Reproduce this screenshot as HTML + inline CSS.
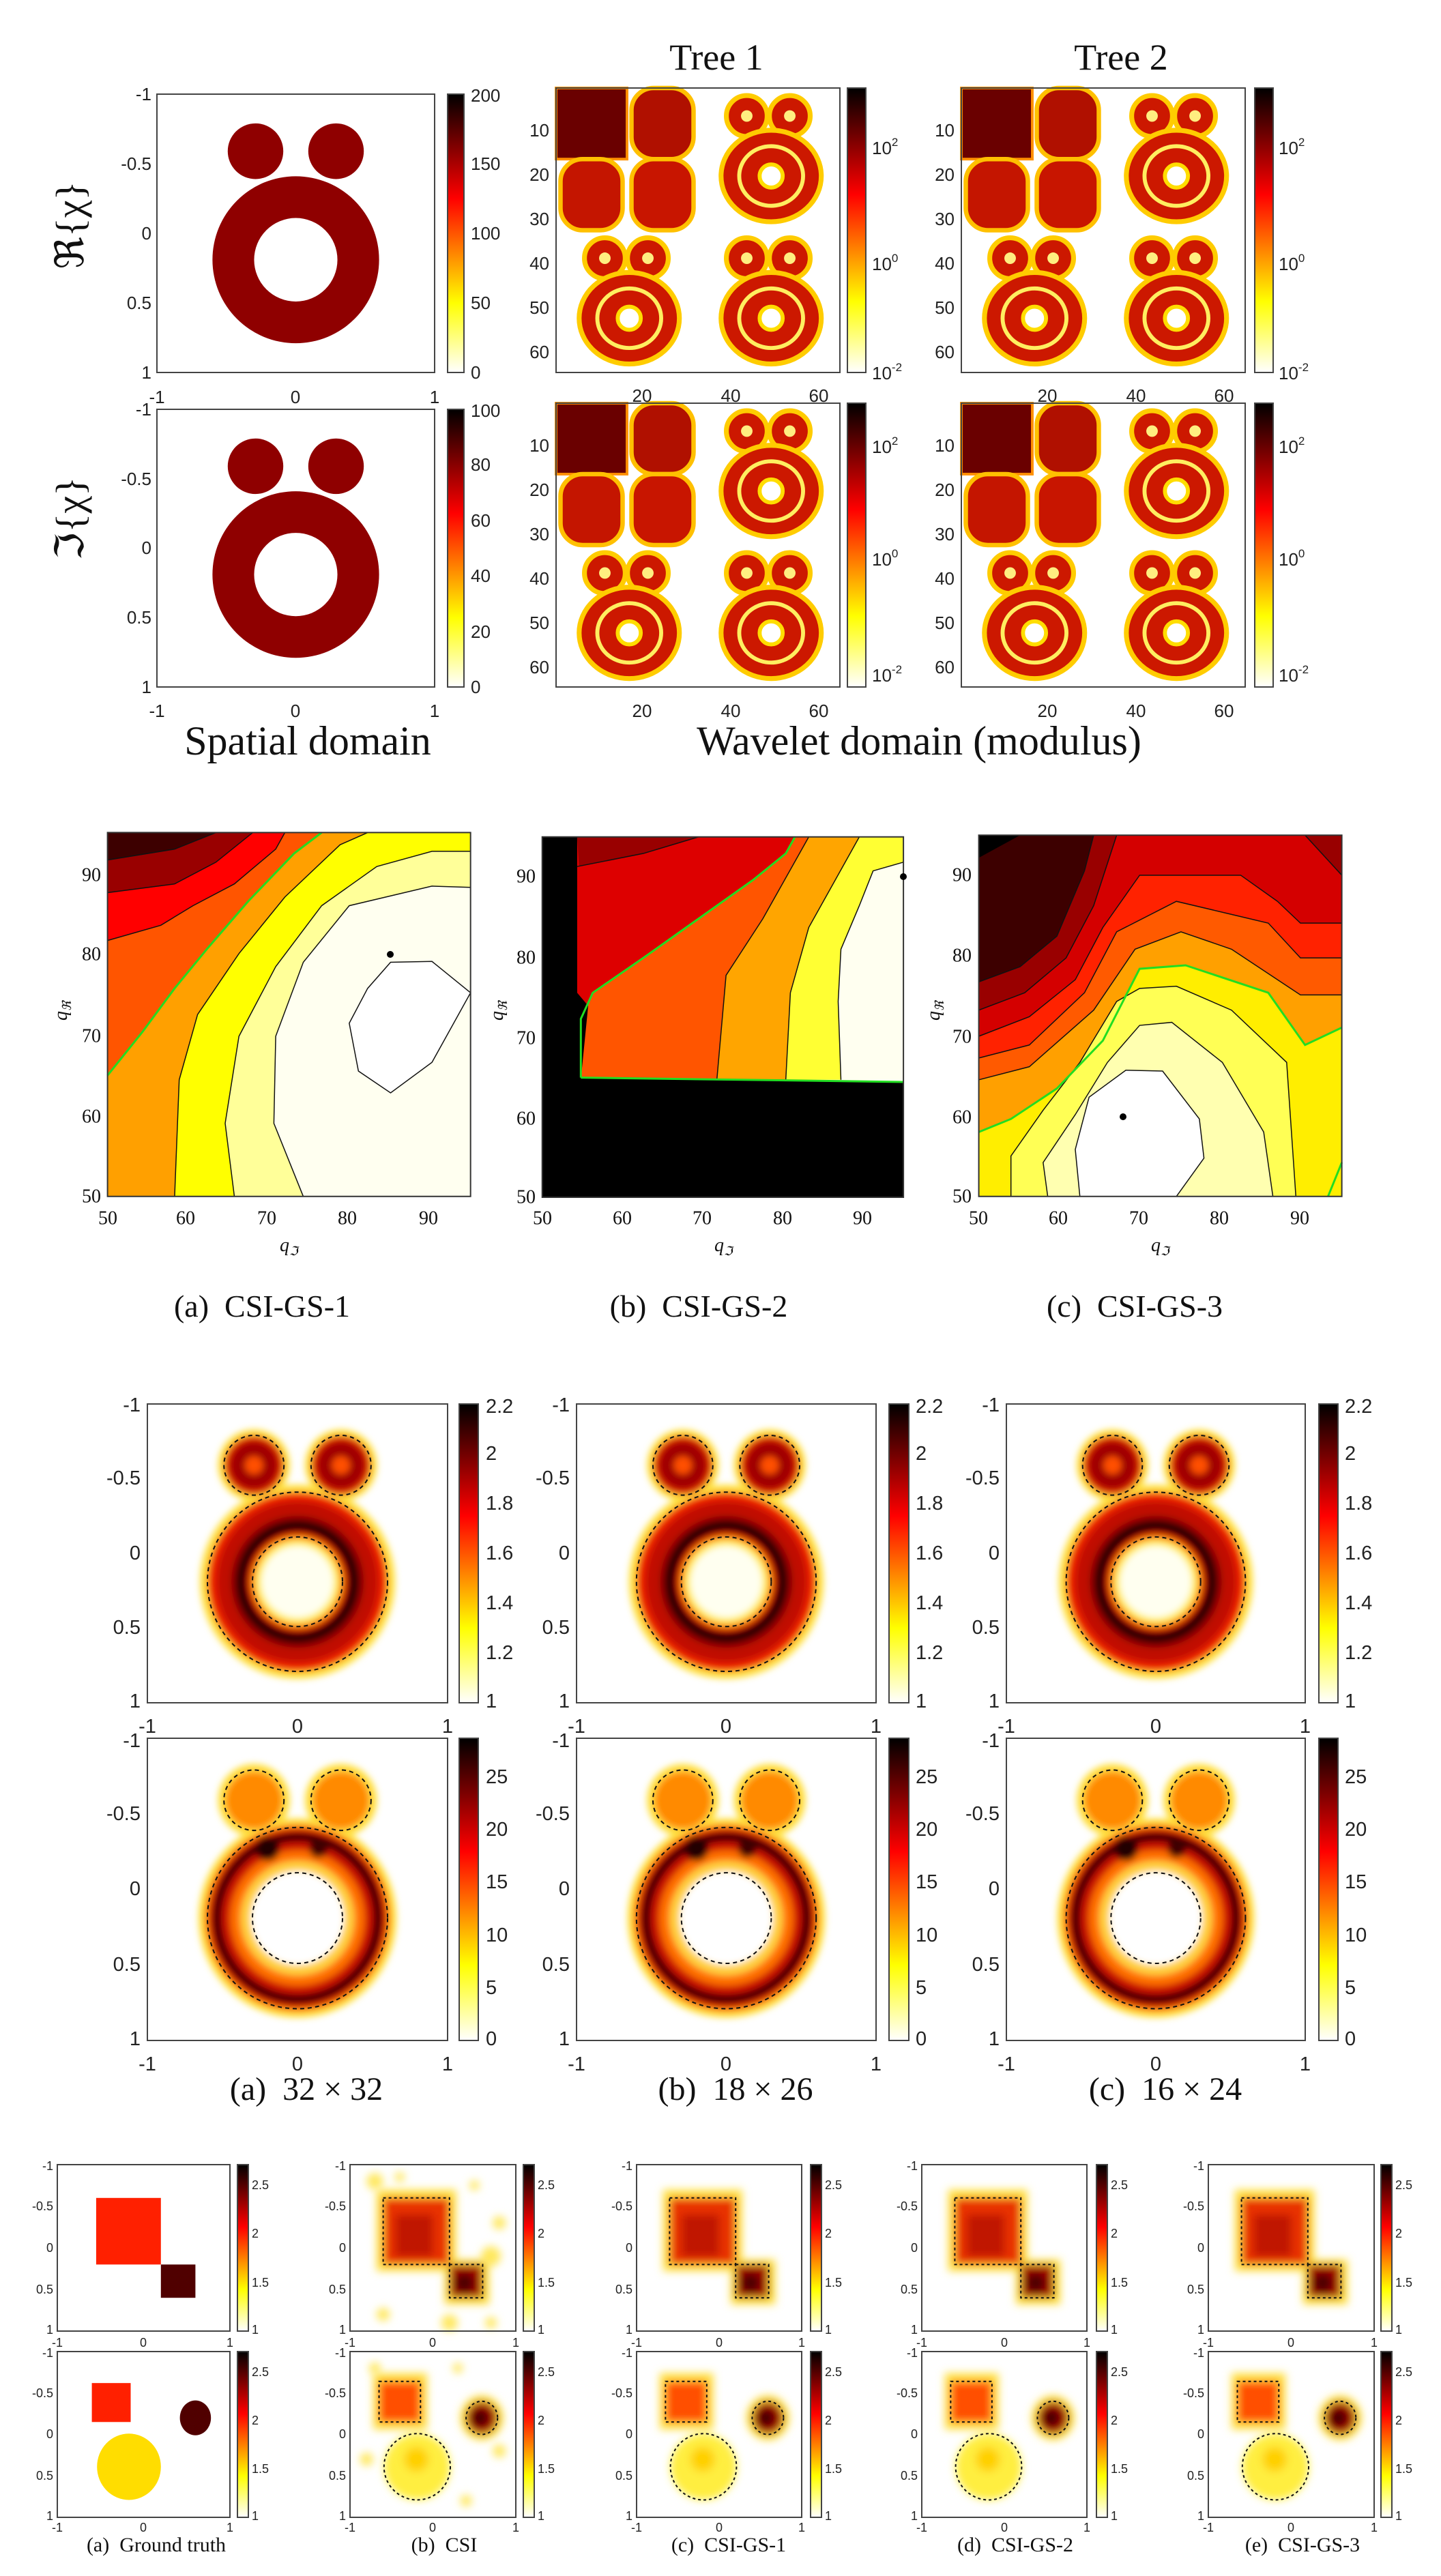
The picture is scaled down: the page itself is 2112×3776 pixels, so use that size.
<!DOCTYPE html>
<html><head><meta charset="utf-8"><style>
html,body{margin:0;padding:0;background:#fff}
svg{display:block}
.s{font-family:"Liberation Sans",sans-serif;fill:#222}
.r{font-family:"Liberation Serif",serif;fill:#111}
.ln{vector-effect:non-scaling-stroke}
</style></head><body>
<svg width="2112" height="3776" viewBox="0 0 2112 3776" xmlns="http://www.w3.org/2000/svg">
<defs>
<linearGradient id="hot" x1="0" y1="0" x2="0" y2="1">
<stop offset="0" stop-color="#000"/><stop offset="0.375" stop-color="#f00"/><stop offset="0.75" stop-color="#ff0"/><stop offset="1" stop-color="#fff"/>
</linearGradient>
<filter id="fb" x="-50%" y="-50%" width="200%" height="200%"><feGaussianBlur stdDeviation="0.022"/></filter>
<filter id="fb2" x="-50%" y="-50%" width="200%" height="200%"><feGaussianBlur stdDeviation="0.05"/></filter>
<g id="wo">
<circle cx="11" cy="6.3" r="4.6" fill="#cc1800" stroke="#ffcc00" stroke-width="1.1"/>
<circle cx="20.7" cy="6.3" r="4.6" fill="#cc1800" stroke="#ffcc00" stroke-width="1.1"/>
<ellipse cx="16.5" cy="19.8" rx="11.3" ry="10.3" fill="#cc1800" stroke="#ffcc00" stroke-width="1.1"/>
<ellipse cx="16.5" cy="19.8" rx="7.2" ry="6.7" fill="none" stroke="#ffee60" stroke-width="0.9"/>
<circle cx="16.5" cy="19.8" r="2.6" fill="#fff" stroke="#ffdd00" stroke-width="0.9"/>
<circle cx="11" cy="6.3" r="1.3" fill="#ffee80"/><circle cx="20.7" cy="6.3" r="1.3" fill="#ffee80"/>
</g>
<g id="wimg">
<rect x="0" y="0" width="16" height="16" fill="#6a0000" stroke="#ff9000" stroke-width="0.6"/>
<rect x="1" y="16" width="14" height="16" rx="5" fill="#c41500" stroke="#ffc000" stroke-width="1"/>
<rect x="17" y="0" width="14" height="16" rx="5" fill="#b01000" stroke="#ffc000" stroke-width="1"/>
<rect x="17" y="16" width="14" height="16" rx="5" fill="#c81500" stroke="#ffc000" stroke-width="1"/>
<use href="#wo" x="32" y="0"/><use href="#wo" x="0" y="32"/><use href="#wo" x="32" y="32"/>
</g>
<g id="oe">
<circle cx="-0.29" cy="-0.59" r="0.2" fill="#8f0000"/><circle cx="0.29" cy="-0.59" r="0.2" fill="#8f0000"/>
<path d="M-0.6,0.19 a0.6,0.6 0 1,0 1.2,0 a0.6,0.6 0 1,0 -1.2,0 Z M-0.3,0.19 a0.3,0.3 0 1,0 0.6,0 a0.3,0.3 0 1,0 -0.6,0 Z" fill="#8f0000" fill-rule="evenodd"/>
</g>
<g id="dsh" fill="none" stroke="#111" stroke-width="2" stroke-dasharray="6 5">
<circle class="ln" cx="-0.29" cy="-0.59" r="0.2"/><circle class="ln" cx="0.29" cy="-0.59" r="0.2"/>
<circle class="ln" cx="0" cy="0.19" r="0.6"/><circle class="ln" cx="0" cy="0.19" r="0.3"/>
</g>
<g id="f1">
<g filter="url(#fb)">
<circle cx="-0.29" cy="-0.59" r="0.24" fill="#ffe040"/><circle cx="0.29" cy="-0.59" r="0.24" fill="#ffe040"/>
<circle cx="0" cy="0.19" r="0.65" fill="#ffe040"/>
<circle cx="-0.29" cy="-0.59" r="0.2" fill="#e02000"/><circle cx="0.29" cy="-0.59" r="0.2" fill="#e02000"/>
<circle cx="-0.29" cy="-0.59" r="0.16" fill="#a00000"/><circle cx="0.29" cy="-0.59" r="0.16" fill="#a00000"/>
<circle cx="-0.29" cy="-0.59" r="0.06" fill="#ff5000"/><circle cx="0.29" cy="-0.59" r="0.06" fill="#ff5000"/>
<circle cx="0" cy="0.19" r="0.6" fill="#ee2000"/>
<circle cx="0" cy="0.19" r="0.54" fill="#c00c00"/>
<circle cx="0" cy="0.19" r="0.44" fill="#7a0000"/>
<circle cx="0" cy="0.19" r="0.4" fill="#100000"/>
<circle cx="0" cy="0.19" r="0.34" fill="#d01000"/>
<circle cx="0" cy="0.19" r="0.31" fill="#ff9000"/>
<circle cx="0" cy="0.19" r="0.28" fill="#ffee60"/>
<circle cx="0" cy="0.19" r="0.24" fill="#fffff0"/>
</g><use href="#dsh"/>
</g>
<g id="f2">
<g filter="url(#fb)">
<circle cx="-0.29" cy="-0.59" r="0.24" fill="#ffe040"/><circle cx="0.29" cy="-0.59" r="0.24" fill="#ffe040"/>
<circle cx="0" cy="0.19" r="0.66" fill="#ffe040"/>
<circle cx="0" cy="0.19" r="0.62" fill="#ff7000"/>
<circle cx="-0.29" cy="-0.59" r="0.19" fill="#ff8a00"/><circle cx="0.29" cy="-0.59" r="0.19" fill="#ff8a00"/>
<circle cx="0" cy="0.19" r="0.59" fill="#c00000"/>
<circle cx="0" cy="0.19" r="0.56" fill="#180000"/>
<circle cx="0" cy="0.19" r="0.51" fill="#c81000"/>
<circle cx="0" cy="0.19" r="0.45" fill="#ff7000"/>
<circle cx="0" cy="0.19" r="0.38" fill="#ffd040"/>
<circle cx="0" cy="0.19" r="0.31" fill="#fff"/>
<circle cx="-0.2" cy="-0.27" r="0.08" fill="#200000"/><circle cx="0.14" cy="-0.27" r="0.06" fill="#400000"/>
</g><use href="#dsh"/>
</g>
<g id="bgt1">
<rect x="-0.55" y="-0.6" width="0.75" height="0.8" fill="#ff2000"/>
<rect x="0.2" y="0.2" width="0.4" height="0.4" fill="#500000"/>
</g>
<g id="bgt2">
<rect x="-0.6" y="-0.62" width="0.45" height="0.47" fill="#ff2000"/>
<ellipse cx="0.6" cy="-0.2" rx="0.18" ry="0.21" fill="#500000"/>
<ellipse cx="-0.17" cy="0.39" rx="0.37" ry="0.4" fill="#ffdd00"/>
</g>
<g id="bd1" fill="none" stroke="#111" stroke-width="2" stroke-dasharray="4 4">
<rect class="ln" x="-0.6" y="-0.6" width="0.8" height="0.8"/><rect class="ln" x="0.2" y="0.2" width="0.4" height="0.4"/>
</g>
<g id="bd2" fill="none" stroke="#111" stroke-width="2" stroke-dasharray="4 4">
<rect class="ln" x="-0.65" y="-0.64" width="0.5" height="0.49"/>
<ellipse class="ln" cx="0.59" cy="-0.2" rx="0.19" ry="0.2"/>
<ellipse class="ln" cx="-0.19" cy="0.39" rx="0.4" ry="0.4"/>
</g>
<g id="br1">
<g filter="url(#fb2)">
<rect x="-0.68" y="-0.7" width="0.96" height="0.98" fill="#ffe040"/>
<rect x="0.14" y="0.14" width="0.54" height="0.54" fill="#ffe040"/>
<rect x="-0.6" y="-0.6" width="0.8" height="0.8" fill="#e83000"/>
<rect x="-0.45" y="-0.4" width="0.45" height="0.5" fill="#c01800"/>
<rect x="0.2" y="0.2" width="0.4" height="0.4" fill="#a00000"/>
<circle cx="0.38" cy="0.42" r="0.12" fill="#500000"/>
</g><use href="#bd1"/>
</g>
<g id="br2">
<g filter="url(#fb2)">
<rect x="-0.72" y="-0.74" width="0.65" height="0.68" fill="#ffe040"/>
<ellipse cx="0.59" cy="-0.2" rx="0.26" ry="0.27" fill="#ffe040"/>
<rect x="-0.65" y="-0.64" width="0.5" height="0.49" fill="#ff5000"/>
<ellipse cx="0.59" cy="-0.2" rx="0.19" ry="0.2" fill="#a00000"/>
<ellipse cx="0.57" cy="-0.2" rx="0.1" ry="0.1" fill="#400000"/>
<ellipse cx="-0.19" cy="0.39" rx="0.4" ry="0.4" fill="#ffee40"/>
<ellipse cx="-0.2" cy="0.3" rx="0.15" ry="0.15" fill="#ffd000"/>
</g><use href="#bd2"/>
</g>
</defs>

<!-- ============ FIGURE 1 ============ -->
<text class="r" x="1050" y="102" font-size="54" text-anchor="middle">Tree 1</text>
<text class="r" x="1643" y="102" font-size="54" text-anchor="middle">Tree 2</text>
<text class="r" transform="translate(122,330) rotate(-90)" font-size="58" text-anchor="middle">ℜ{χ}</text>
<text class="r" transform="translate(122,760) rotate(-90)" font-size="58" text-anchor="middle">ℑ{χ}</text>

<g transform="translate(433.5,342) scale(203.5,204)"><use href="#oe"/></g>
<rect x="230" y="138" width="407" height="408" fill="none" stroke="#444" stroke-width="2"/>
<g class="s" font-size="26" text-anchor="end" dominant-baseline="central">
<text x="222" y="138">-1</text><text x="222" y="240">-0.5</text><text x="222" y="342">0</text><text x="222" y="444">0.5</text><text x="222" y="546">1</text>
<text x="222" y="600">-1</text><text x="222" y="702">-0.5</text><text x="222" y="803">0</text><text x="222" y="905">0.5</text><text x="222" y="1007">1</text>
</g>
<g class="s" font-size="26" text-anchor="middle" dominant-baseline="central">
<text x="230" y="582">-1</text><text x="433" y="582">0</text><text x="637" y="582">1</text>
<text x="230" y="1042">-1</text><text x="433" y="1042">0</text><text x="637" y="1042">1</text>
</g>
<rect x="656" y="138" width="24" height="408" fill="url(#hot)" stroke="#444" stroke-width="2"/>
<g class="s" font-size="26" dominant-baseline="central">
<text x="690" y="140">200</text><text x="690" y="240">150</text><text x="690" y="342">100</text><text x="690" y="444">50</text><text x="690" y="546">0</text>
<text x="690" y="602">100</text><text x="690" y="681">80</text><text x="690" y="763">60</text><text x="690" y="844">40</text><text x="690" y="926">20</text><text x="690" y="1007">0</text>
</g>
<g transform="translate(433.5,803.5) scale(203.5,203.5)"><use href="#oe"/></g>
<rect x="230" y="600" width="407" height="407" fill="none" stroke="#444" stroke-width="2"/>
<rect x="656" y="600" width="24" height="407" fill="url(#hot)" stroke="#444" stroke-width="2"/>

<g transform="translate(815,129) scale(6.5,6.515)"><use href="#wimg"/></g>
<g transform="translate(1409,129) scale(6.5,6.515)"><use href="#wimg"/></g>
<g transform="translate(815,591) scale(6.5,6.5)"><use href="#wimg"/></g>
<g transform="translate(1409,591) scale(6.5,6.5)"><use href="#wimg"/></g>
<g fill="none" stroke="#444" stroke-width="2">
<rect x="815" y="129" width="416" height="417"/><rect x="1409" y="129" width="416" height="417"/>
<rect x="815" y="591" width="416" height="416"/><rect x="1409" y="591" width="416" height="416"/>
</g>
<g stroke="#444" stroke-width="2">
<rect x="1242" y="129" width="27" height="417" fill="url(#hot)"/><rect x="1839" y="129" width="27" height="417" fill="url(#hot)"/>
<rect x="1242" y="591" width="27" height="416" fill="url(#hot)"/><rect x="1839" y="591" width="27" height="416" fill="url(#hot)"/>
</g>
<g class="s" font-size="26" text-anchor="end" dominant-baseline="central">
<text x="805" y="191">10</text><text x="805" y="256">20</text><text x="805" y="321">30</text><text x="805" y="386">40</text><text x="805" y="451">50</text><text x="805" y="516">60</text>
<text x="805" y="653">10</text><text x="805" y="718">20</text><text x="805" y="783">30</text><text x="805" y="848">40</text><text x="805" y="913">50</text><text x="805" y="978">60</text>
<text x="1399" y="191">10</text><text x="1399" y="256">20</text><text x="1399" y="321">30</text><text x="1399" y="386">40</text><text x="1399" y="451">50</text><text x="1399" y="516">60</text>
<text x="1399" y="653">10</text><text x="1399" y="718">20</text><text x="1399" y="783">30</text><text x="1399" y="848">40</text><text x="1399" y="913">50</text><text x="1399" y="978">60</text>
</g>
<g class="s" font-size="26" text-anchor="middle" dominant-baseline="central">
<text x="941" y="580">20</text><text x="1071" y="580">40</text><text x="1200" y="580">60</text>
<text x="1535" y="580">20</text><text x="1665" y="580">40</text><text x="1794" y="580">60</text>
<text x="941" y="1042">20</text><text x="1071" y="1042">40</text><text x="1200" y="1042">60</text>
<text x="1535" y="1042">20</text><text x="1665" y="1042">40</text><text x="1794" y="1042">60</text>
</g>
<g class="s" font-size="26">
<text x="1278" y="226">10<tspan dy="-12" font-size="17">2</tspan></text>
<text x="1278" y="396">10<tspan dy="-12" font-size="17">0</tspan></text>
<text x="1278" y="556">10<tspan dy="-12" font-size="17">-2</tspan></text>
<text x="1278" y="664">10<tspan dy="-12" font-size="17">2</tspan></text>
<text x="1278" y="829">10<tspan dy="-12" font-size="17">0</tspan></text>
<text x="1278" y="999">10<tspan dy="-12" font-size="17">-2</tspan></text>
<text x="1874" y="226">10<tspan dy="-12" font-size="17">2</tspan></text>
<text x="1874" y="396">10<tspan dy="-12" font-size="17">0</tspan></text>
<text x="1874" y="556">10<tspan dy="-12" font-size="17">-2</tspan></text>
<text x="1874" y="664">10<tspan dy="-12" font-size="17">2</tspan></text>
<text x="1874" y="829">10<tspan dy="-12" font-size="17">0</tspan></text>
<text x="1874" y="999">10<tspan dy="-12" font-size="17">-2</tspan></text>
</g>
<text class="r" x="451" y="1106" font-size="60" text-anchor="middle">Spatial domain</text>
<text class="r" x="1347" y="1106" font-size="60" text-anchor="middle">Wavelet domain (modulus)</text>

<!-- ============ FIGURE 2: contours ============ -->
<g transform="matrix(1.347,0,0,0.638,0,1200)">
<rect x="117" y="32" width="395" height="836" fill="#fffff0"/>
<polygon points="117,868 330,868 298,700 300,500 330,330 380,200 470,155 512,158 512,32 117,32" fill="#ffff99"/>
<polygon points="117,868 255,868 245,700 260,500 300,340 350,200 410,110 470,75 512,75 512,32 117,32" fill="#ffff00"/>
<polygon points="117,868 190,868 195,600 215,450 260,310 310,180 370,60 400,32 117,32" fill="#ffa000"/>
<polygon points="117,590 155,490 190,390 225,300 270,190 320,80 350,32 117,32" fill="#ff5500"/>
<polygon points="117,280 175,245 210,200 255,150 300,70 310,32 117,32" fill="#ff0000"/>
<polygon points="117,170 190,150 235,100 275,32 117,32" fill="#990000"/>
<polygon points="117,95 190,70 235,32 117,32" fill="#3d0000"/>
<polygon points="425,330 470,328 512,400 470,560 425,630 390,580 380,470 400,390" fill="#fff"/>
<g fill="none" stroke="#111" stroke-width="1.5">
<polyline class="ln" points="330,868 298,700 300,500 330,330 380,200 470,155 512,158"/>
<polyline class="ln" points="255,868 245,700 260,500 300,340 350,200 410,110 470,75 512,75"/>
<polyline class="ln" points="190,868 195,600 215,450 260,310 310,180 370,60 400,32"/>
<polyline class="ln" points="117,280 175,245 210,200 255,150 300,70 310,32"/>
<polyline class="ln" points="117,170 190,150 235,100 275,32"/>
<polyline class="ln" points="117,95 190,70 235,32"/>
<polygon class="ln" points="425,330 470,328 512,400 470,560 425,630 390,580 380,470 400,390"/>
</g>
<polyline class="ln" points="117,590 155,490 190,390 225,300 270,190 320,80 350,32" fill="none" stroke="#22dd22" stroke-width="3"/>
<rect class="ln" x="117" y="32" width="395" height="836" fill="none" stroke="#333" stroke-width="2"/>
<rect x="590" y="42" width="393" height="828" fill="#fffff0"/>
<polygon points="590,870 590,42 983,42 983,100 950,120 935,200 915,300 912,420 915,600 590,600" fill="#ffff33"/>
<polygon points="590,600 590,42 935,42 880,250 860,400 855,600" fill="#ffa500"/>
<polygon points="590,600 590,42 880,42 830,230 790,360 780,600" fill="#ff5500"/>
<polygon points="590,600 590,42 865,42 855,80 820,140 760,230 700,320 645,400 632,460 632,595" fill="#dd0000"/>
<polygon points="628,42 760,42 700,80 630,110" fill="#990000"/>
<polygon points="590,42 628,42 628,400 640,430 632,600 590,600" fill="#000"/>
<polygon points="590,595 983,605 983,870 590,870" fill="#000"/>
<g fill="none" stroke="#111" stroke-width="1.5">
<polyline class="ln" points="983,100 950,120 935,200 915,300 912,420 915,600"/>
<polyline class="ln" points="935,42 880,250 860,400 855,600"/>
<polyline class="ln" points="880,42 830,230 790,360 780,600"/>
<polyline class="ln" points="628,110 700,80 760,42"/>
</g>
<g fill="none" stroke="#22dd22" stroke-width="3">
<polyline class="ln" points="632,595 632,460 645,400 700,320 760,230 820,140 855,80 865,42"/>
<polyline class="ln" points="632,595 983,605"/>
</g>
<rect class="ln" x="590" y="42" width="393" height="828" fill="none" stroke="#333" stroke-width="2"/>
<rect x="1065" y="38" width="395" height="830" fill="#3d0000"/>
<polygon points="1065,375 1110,340 1150,270 1180,120 1190,38 1460,38 1460,868 1065,868" fill="#990000"/>
<polygon points="1065,440 1115,400 1160,320 1190,200 1215,38 1420,38 1460,130 1460,868 1065,868" fill="#d40000"/>
<polygon points="1065,500 1120,455 1170,370 1200,250 1240,130 1350,130 1390,190 1415,240 1460,240 1460,868 1065,868" fill="#ff2200"/>
<polygon points="1065,550 1120,520 1180,400 1215,260 1280,190 1340,220 1380,240 1415,320 1460,320 1460,868 1065,868" fill="#ff5a00"/>
<polygon points="1065,600 1120,570 1190,440 1235,300 1285,260 1340,300 1415,405 1460,405 1460,868 1065,868" fill="#ffa000"/>
<polygon points="1065,720 1100,690 1150,620 1200,510 1240,345 1290,337 1380,400 1420,520 1460,480 1460,868 1065,868" fill="#ffee00"/>
<polygon points="1100,868 1100,775 1135,670 1175,560 1215,420 1240,390 1280,385 1340,440 1400,560 1410,868" fill="#ffff55"/>
<polygon points="1140,868 1135,790 1170,680 1205,560 1240,475 1275,468 1330,560 1375,720 1385,868" fill="#ffffb0"/>
<polygon points="1175,868 1170,760 1185,640 1225,578 1265,580 1305,690 1310,780 1280,868" fill="#fff"/>
<polygon points="1065,38 1110,38 1065,90" fill="#000"/>
<g fill="none" stroke="#111" stroke-width="1.5">
<polyline class="ln" points="1065,375 1110,340 1150,270 1180,120 1190,38"/>
<polyline class="ln" points="1065,440 1115,400 1160,320 1190,200 1215,38"/>
<polyline class="ln" points="1420,38 1460,130"/>
<polyline class="ln" points="1065,500 1120,455 1170,370 1200,250 1240,130 1350,130 1390,190 1415,240 1460,240"/>
<polyline class="ln" points="1065,550 1120,520 1180,400 1215,260 1280,190 1340,220 1380,240 1415,320 1460,320"/>
<polyline class="ln" points="1065,600 1120,570 1190,440 1235,300 1285,260 1340,300 1415,405 1460,405"/>
<polyline class="ln" points="1100,868 1100,775 1135,670 1175,560 1215,420 1240,390 1280,385 1340,440 1400,560 1410,868"/>
<polyline class="ln" points="1140,868 1135,790 1170,680 1205,560 1240,475 1275,468 1330,560 1375,720 1385,868"/>
<polyline class="ln" points="1175,868 1170,760 1185,640 1225,578 1265,580 1305,690 1310,780 1280,868"/>
</g>
<g fill="none" stroke="#22dd22" stroke-width="3">
<polyline class="ln" points="1065,720 1100,690 1150,620 1200,510 1240,345 1290,337 1380,400 1420,520 1460,480"/>
<polyline class="ln" points="1445,868 1460,790"/>
</g>
<rect class="ln" x="1065" y="38" width="395" height="830" fill="none" stroke="#333" stroke-width="2"/>
</g>
<circle cx="572" cy="1399" r="5" fill="#000"/>
<circle cx="1324" cy="1285" r="5" fill="#000"/>
<circle cx="1646" cy="1637" r="5" fill="#000"/>
<g class="r" font-size="28" text-anchor="end" dominant-baseline="central">
<text x="148" y="1283">90</text><text x="148" y="1399">80</text><text x="148" y="1519">70</text><text x="148" y="1637">60</text><text x="148" y="1754">50</text>
<text x="785" y="1285">90</text><text x="785" y="1404">80</text><text x="785" y="1522">70</text><text x="785" y="1640">60</text><text x="785" y="1755">50</text>
<text x="1424" y="1283">90</text><text x="1424" y="1401">80</text><text x="1424" y="1520">70</text><text x="1424" y="1638">60</text><text x="1424" y="1754">50</text>
</g>
<g class="r" font-size="28" text-anchor="middle" dominant-baseline="central">
<text x="158" y="1786">50</text><text x="272" y="1786">60</text><text x="391" y="1786">70</text><text x="509" y="1786">80</text><text x="628" y="1786">90</text>
<text x="795" y="1786">50</text><text x="912" y="1786">60</text><text x="1029" y="1786">70</text><text x="1147" y="1786">80</text><text x="1264" y="1786">90</text>
<text x="1434" y="1786">50</text><text x="1551" y="1786">60</text><text x="1669" y="1786">70</text><text x="1787" y="1786">80</text><text x="1905" y="1786">90</text>
</g>
<g class="r" font-size="28" font-style="italic">
<text x="410" y="1834">q<tspan font-size="18" dy="6">ℑ</tspan></text>
<text x="1047" y="1834">q<tspan font-size="18" dy="6">ℑ</tspan></text>
<text x="1687" y="1834">q<tspan font-size="18" dy="6">ℑ</tspan></text>
<text transform="translate(98,1496) rotate(-90)">q<tspan font-size="18" dy="6">ℜ</tspan></text>
<text transform="translate(737,1496) rotate(-90)">q<tspan font-size="18" dy="6">ℜ</tspan></text>
<text transform="translate(1377,1496) rotate(-90)">q<tspan font-size="18" dy="6">ℜ</tspan></text>
</g>
<g class="r" font-size="46" text-anchor="middle">
<text x="384" y="1930" xml:space="preserve">(a)  CSI-GS-1</text>
<text x="1024" y="1930" xml:space="preserve">(b)  CSI-GS-2</text>
<text x="1663" y="1930" xml:space="preserve">(c)  CSI-GS-3</text>
</g>

<!-- ============ FIGURE 3 ============ -->
<g transform="translate(436,2277) scale(220,219)"><use href="#f1"/></g>
<g transform="translate(1064.5,2277) scale(219.5,219)"><use href="#f1"/></g>
<g transform="translate(1694,2277) scale(219,219)"><use href="#f1"/></g>
<g transform="translate(436,2769.5) scale(220,221.5)"><use href="#f2"/></g>
<g transform="translate(1064.5,2769.5) scale(219.5,221.5)"><use href="#f2"/></g>
<g transform="translate(1694,2769.5) scale(219,221.5)"><use href="#f2"/></g>
<g fill="none" stroke="#444" stroke-width="2">
<rect x="216" y="2058" width="440" height="438"/><rect x="845" y="2058" width="439" height="438"/><rect x="1475" y="2058" width="438" height="438"/>
<rect x="216" y="2548" width="440" height="443"/><rect x="845" y="2548" width="439" height="443"/><rect x="1475" y="2548" width="438" height="443"/>
</g>
<g stroke="#444" stroke-width="2" fill="url(#hot)">
<rect x="673" y="2058" width="28" height="438"/><rect x="1303" y="2058" width="29" height="438"/><rect x="1933" y="2058" width="28" height="438"/>
<rect x="673" y="2548" width="28" height="443"/><rect x="1303" y="2548" width="29" height="443"/><rect x="1933" y="2548" width="28" height="443"/>
</g>
<g class="s" font-size="29" text-anchor="end" dominant-baseline="central">
<text x="206" y="2060">-1</text><text x="206" y="2167">-0.5</text><text x="206" y="2277">0</text><text x="206" y="2386">0.5</text><text x="206" y="2494">1</text>
<text x="835" y="2060">-1</text><text x="835" y="2167">-0.5</text><text x="835" y="2277">0</text><text x="835" y="2386">0.5</text><text x="835" y="2494">1</text>
<text x="1465" y="2060">-1</text><text x="1465" y="2167">-0.5</text><text x="1465" y="2277">0</text><text x="1465" y="2386">0.5</text><text x="1465" y="2494">1</text>
<text x="206" y="2552">-1</text><text x="206" y="2659">-0.5</text><text x="206" y="2769">0</text><text x="206" y="2880">0.5</text><text x="206" y="2989">1</text>
<text x="835" y="2552">-1</text><text x="835" y="2659">-0.5</text><text x="835" y="2769">0</text><text x="835" y="2880">0.5</text><text x="835" y="2989">1</text>
<text x="1465" y="2552">-1</text><text x="1465" y="2659">-0.5</text><text x="1465" y="2769">0</text><text x="1465" y="2880">0.5</text><text x="1465" y="2989">1</text>
</g>
<g class="s" font-size="29" text-anchor="middle" dominant-baseline="central">
<text x="216" y="2531">-1</text><text x="436" y="2531">0</text><text x="656" y="2531">1</text>
<text x="845" y="2531">-1</text><text x="1064" y="2531">0</text><text x="1284" y="2531">1</text>
<text x="1475" y="2531">-1</text><text x="1694" y="2531">0</text><text x="1913" y="2531">1</text>
<text x="216" y="3026">-1</text><text x="436" y="3026">0</text><text x="656" y="3026">1</text>
<text x="845" y="3026">-1</text><text x="1064" y="3026">0</text><text x="1284" y="3026">1</text>
<text x="1475" y="3026">-1</text><text x="1694" y="3026">0</text><text x="1913" y="3026">1</text>
</g>
<g class="s" font-size="29" dominant-baseline="central">
<text x="712" y="2062">2.2</text><text x="712" y="2131">2</text><text x="712" y="2204">1.8</text><text x="712" y="2277">1.6</text><text x="712" y="2350">1.4</text><text x="712" y="2423">1.2</text><text x="712" y="2494">1</text>
<text x="1342" y="2062">2.2</text><text x="1342" y="2131">2</text><text x="1342" y="2204">1.8</text><text x="1342" y="2277">1.6</text><text x="1342" y="2350">1.4</text><text x="1342" y="2423">1.2</text><text x="1342" y="2494">1</text>
<text x="1971" y="2062">2.2</text><text x="1971" y="2131">2</text><text x="1971" y="2204">1.8</text><text x="1971" y="2277">1.6</text><text x="1971" y="2350">1.4</text><text x="1971" y="2423">1.2</text><text x="1971" y="2494">1</text>
<text x="712" y="2605">25</text><text x="712" y="2682">20</text><text x="712" y="2759">15</text><text x="712" y="2837">10</text><text x="712" y="2914">5</text><text x="712" y="2989">0</text>
<text x="1342" y="2605">25</text><text x="1342" y="2682">20</text><text x="1342" y="2759">15</text><text x="1342" y="2837">10</text><text x="1342" y="2914">5</text><text x="1342" y="2989">0</text>
<text x="1971" y="2605">25</text><text x="1971" y="2682">20</text><text x="1971" y="2759">15</text><text x="1971" y="2837">10</text><text x="1971" y="2914">5</text><text x="1971" y="2989">0</text>
</g>
<g class="r" font-size="48" text-anchor="middle">
<text x="449" y="3078" xml:space="preserve">(a)  32 × 32</text>
<text x="1078" y="3078" xml:space="preserve">(b)  18 × 26</text>
<text x="1708" y="3078" xml:space="preserve">(c)  16 × 24</text>
</g>

<!-- ============ FIGURE 4 ============ -->
<g transform="translate(210.5,3295) scale(126.5,122)"><use href="#bgt1"/></g>
<g transform="translate(210.5,3568.5) scale(126.5,121.5)"><use href="#bgt2"/></g>
<g transform="translate(634.5,3295) scale(121.5,122)">
<g filter="url(#fb2)" fill="#ffe860">
<circle cx="-0.7" cy="-0.8" r="0.1"/><circle cx="-0.4" cy="-0.85" r="0.06"/><circle cx="0.5" cy="-0.75" r="0.06"/><circle cx="0.8" cy="-0.3" r="0.08"/>
<circle cx="-0.6" cy="0.8" r="0.08"/><circle cx="0.2" cy="0.9" r="0.1"/><circle cx="0.7" cy="0.9" r="0.07"/><circle cx="0.7" cy="0.1" r="0.12"/>
</g>
<use href="#br1"/></g>
<g transform="translate(1054,3295) scale(121,122)"><use href="#br1"/></g>
<g transform="translate(1472,3295) scale(121,122)"><use href="#br1"/></g>
<g transform="translate(1892.5,3295) scale(121.5,122)"><use href="#br1"/></g>
<g transform="translate(634.5,3568.5) scale(121.5,121.5)">
<g filter="url(#fb2)" fill="#ffe860">
<circle cx="-0.7" cy="-0.8" r="0.07"/><circle cx="0.3" cy="-0.8" r="0.06"/><circle cx="0.8" cy="0.2" r="0.08"/><circle cx="-0.8" cy="0.3" r="0.08"/><circle cx="0.4" cy="0.8" r="0.07"/>
</g>
<use href="#br2"/></g>
<g transform="translate(1054,3568.5) scale(121,121.5)"><use href="#br2"/></g>
<g transform="translate(1472,3568.5) scale(121,121.5)"><use href="#br2"/></g>
<g transform="translate(1892.5,3568.5) scale(121.5,121.5)"><use href="#br2"/></g>
<g fill="none" stroke="#444" stroke-width="2">
<rect x="84" y="3173" width="253" height="244"/><rect x="513" y="3173" width="243" height="244"/><rect x="933" y="3173" width="242" height="244"/><rect x="1351" y="3173" width="242" height="244"/><rect x="1771" y="3173" width="243" height="244"/>
<rect x="84" y="3447" width="253" height="243"/><rect x="513" y="3447" width="243" height="243"/><rect x="933" y="3447" width="242" height="243"/><rect x="1351" y="3447" width="242" height="243"/><rect x="1771" y="3447" width="243" height="243"/>
</g>
<g stroke="#444" stroke-width="2" fill="url(#hot)">
<rect x="348" y="3173" width="16" height="244"/><rect x="767" y="3173" width="16" height="244"/><rect x="1188" y="3173" width="16" height="244"/><rect x="1607" y="3173" width="16" height="244"/><rect x="2024" y="3173" width="16" height="244"/>
<rect x="348" y="3447" width="16" height="243"/><rect x="767" y="3447" width="16" height="243"/><rect x="1188" y="3447" width="16" height="243"/><rect x="1607" y="3447" width="16" height="243"/><rect x="2024" y="3447" width="16" height="243"/>
</g>
<g class="s" font-size="18" text-anchor="end" dominant-baseline="central">
<text x="78" y="3175">-1</text><text x="78" y="3234">-0.5</text><text x="78" y="3295">0</text><text x="78" y="3356">0.5</text><text x="78" y="3415">1</text>
<text x="507" y="3175">-1</text><text x="507" y="3234">-0.5</text><text x="507" y="3295">0</text><text x="507" y="3356">0.5</text><text x="507" y="3415">1</text>
<text x="927" y="3175">-1</text><text x="927" y="3234">-0.5</text><text x="927" y="3295">0</text><text x="927" y="3356">0.5</text><text x="927" y="3415">1</text>
<text x="1345" y="3175">-1</text><text x="1345" y="3234">-0.5</text><text x="1345" y="3295">0</text><text x="1345" y="3356">0.5</text><text x="1345" y="3415">1</text>
<text x="1765" y="3175">-1</text><text x="1765" y="3234">-0.5</text><text x="1765" y="3295">0</text><text x="1765" y="3356">0.5</text><text x="1765" y="3415">1</text>
<text x="78" y="3449">-1</text><text x="78" y="3508">-0.5</text><text x="78" y="3568">0</text><text x="78" y="3629">0.5</text><text x="78" y="3688">1</text>
<text x="507" y="3449">-1</text><text x="507" y="3508">-0.5</text><text x="507" y="3568">0</text><text x="507" y="3629">0.5</text><text x="507" y="3688">1</text>
<text x="927" y="3449">-1</text><text x="927" y="3508">-0.5</text><text x="927" y="3568">0</text><text x="927" y="3629">0.5</text><text x="927" y="3688">1</text>
<text x="1345" y="3449">-1</text><text x="1345" y="3508">-0.5</text><text x="1345" y="3568">0</text><text x="1345" y="3629">0.5</text><text x="1345" y="3688">1</text>
<text x="1765" y="3449">-1</text><text x="1765" y="3508">-0.5</text><text x="1765" y="3568">0</text><text x="1765" y="3629">0.5</text><text x="1765" y="3688">1</text>
</g>
<g class="s" font-size="18" text-anchor="middle" dominant-baseline="central">
<text x="84" y="3434">-1</text><text x="210" y="3434">0</text><text x="337" y="3434">1</text>
<text x="513" y="3434">-1</text><text x="634" y="3434">0</text><text x="756" y="3434">1</text>
<text x="933" y="3434">-1</text><text x="1054" y="3434">0</text><text x="1175" y="3434">1</text>
<text x="1351" y="3434">-1</text><text x="1472" y="3434">0</text><text x="1593" y="3434">1</text>
<text x="1771" y="3434">-1</text><text x="1892" y="3434">0</text><text x="2014" y="3434">1</text>
<text x="84" y="3705">-1</text><text x="210" y="3705">0</text><text x="337" y="3705">1</text>
<text x="513" y="3705">-1</text><text x="634" y="3705">0</text><text x="756" y="3705">1</text>
<text x="933" y="3705">-1</text><text x="1054" y="3705">0</text><text x="1175" y="3705">1</text>
<text x="1351" y="3705">-1</text><text x="1472" y="3705">0</text><text x="1593" y="3705">1</text>
<text x="1771" y="3705">-1</text><text x="1892" y="3705">0</text><text x="2014" y="3705">1</text>
</g>
<g class="s" font-size="18" dominant-baseline="central">
<text x="369" y="3203">2.5</text><text x="369" y="3274">2</text><text x="369" y="3346">1.5</text><text x="369" y="3415">1</text>
<text x="788" y="3203">2.5</text><text x="788" y="3274">2</text><text x="788" y="3346">1.5</text><text x="788" y="3415">1</text>
<text x="1209" y="3203">2.5</text><text x="1209" y="3274">2</text><text x="1209" y="3346">1.5</text><text x="1209" y="3415">1</text>
<text x="1628" y="3203">2.5</text><text x="1628" y="3274">2</text><text x="1628" y="3346">1.5</text><text x="1628" y="3415">1</text>
<text x="2045" y="3203">2.5</text><text x="2045" y="3274">2</text><text x="2045" y="3346">1.5</text><text x="2045" y="3415">1</text>
<text x="369" y="3477">2.5</text><text x="369" y="3548">2</text><text x="369" y="3619">1.5</text><text x="369" y="3688">1</text>
<text x="788" y="3477">2.5</text><text x="788" y="3548">2</text><text x="788" y="3619">1.5</text><text x="788" y="3688">1</text>
<text x="1209" y="3477">2.5</text><text x="1209" y="3548">2</text><text x="1209" y="3619">1.5</text><text x="1209" y="3688">1</text>
<text x="1628" y="3477">2.5</text><text x="1628" y="3548">2</text><text x="1628" y="3619">1.5</text><text x="1628" y="3688">1</text>
<text x="2045" y="3477">2.5</text><text x="2045" y="3548">2</text><text x="2045" y="3619">1.5</text><text x="2045" y="3688">1</text>
</g>
<g class="r" font-size="30" text-anchor="middle">
<text x="229" y="3740" xml:space="preserve">(a)  Ground truth</text>
<text x="651" y="3740" xml:space="preserve">(b)  CSI</text>
<text x="1068" y="3740" xml:space="preserve">(c)  CSI-GS-1</text>
<text x="1488" y="3740" xml:space="preserve">(d)  CSI-GS-2</text>
<text x="1909" y="3740" xml:space="preserve">(e)  CSI-GS-3</text>
</g>
</svg>
</body></html>
